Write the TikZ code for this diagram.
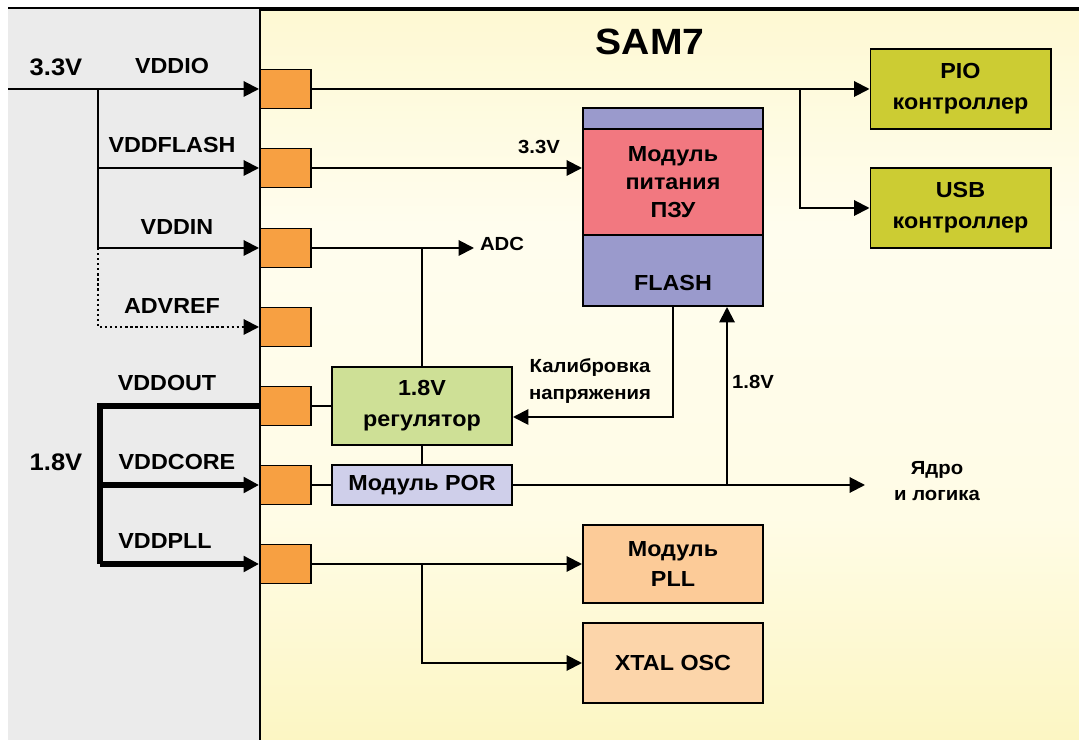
\documentclass[tikz,border=0pt]{standalone}
\usepackage{fontspec}
\setmainfont{Liberation Sans}[FakeStretch=1.07]
\usetikzlibrary{arrows.meta}

\definecolor{pinorange}{HTML}{F7A042}
\definecolor{ctrlolive}{HTML}{CCCC33}
\definecolor{romred}{HTML}{F27880}
\definecolor{flashblue}{HTML}{9A9ACC}
\definecolor{reggreen}{HTML}{CEE096}
\definecolor{porlav}{HTML}{CFCFEA}
\definecolor{pllorange}{HTML}{FCCB98}
\definecolor{xtalorange}{HTML}{FCD5AA}
\definecolor{leftgrey}{HTML}{EBEBEB}

\pgfdeclareverticalshading{chipshade}{100bp}{
  rgb(0bp)=(0.976,0.937,0.596);
  rgb(20bp)=(0.984,0.957,0.720);
  rgb(40bp)=(1,0.988,0.900);
  rgb(60bp)=(1,0.992,0.935);
  rgb(80bp)=(0.992,0.969,0.790);
  rgb(100bp)=(0.980,0.949,0.630)}

\begin{document}
\begin{tikzpicture}
  [x=0.025cm,y=-0.025cm,line width=1.4pt,
   font=\bfseries\fontsize{15.5}{22}\selectfont,
   >={Triangle[length=11pt,width=11pt]},
   pin/.style={draw,fill=pinorange,minimum width=1.275cm,minimum height=0.975cm,inner sep=0pt},
   block/.style={draw,minimum width=4.5cm,minimum height=2cm,align=center,inner sep=0pt},
   lbl/.style={inner sep=0pt,align=center},
   small/.style={font=\bfseries\fontsize{13.5}{19}\selectfont},
   big/.style={font=\bfseries\fontsize{17}{22}\selectfont},
   bus/.style={line width=3.6pt}]
  \useasboundingbox (0,0) rectangle (1079,740);
  \fill[white] (0,0) rectangle (1079,740);
  \fill[leftgrey] (8,8) rectangle (260,740);
  \shade[shading=chipshade] (260,9) rectangle (1079,740);
  \draw[line width=1pt] (8,8) -- (260,8);
  \draw[line width=2.2pt] (260,9) -- (1079,9);
  \draw[line width=1.6pt] (260,8) -- (260,740);

  \node[lbl,font=\bfseries\fontsize{26}{30}\selectfont] (title) at (650,42) {SAM7};

  % pins
  \node[pin] (io)   at (285.5,89)  {};
  \node[pin] (fl)   at (285.5,168) {};
  \node[pin] (in)   at (285.5,248) {};
  \node[pin] (ref)  at (285.5,327) {};
  \node[pin] (out)  at (285.5,406) {};
  \node[pin] (core) at (285.5,485) {};
  \node[pin] (pll)  at (285.5,564) {};

  % left labels
  \node[lbl,big] (v33) at (56,67)  {3.3V};
  \node[lbl,big] (v18) at (56,462) {1.8V};
  \node[lbl] (lio)   at (172,66)  {VDDIO};
  \node[lbl] (lfl)   at (172,145) {VDDFLASH};
  \node[lbl] (lin)   at (177,227) {VDDIN};
  \node[lbl] (lref)  at (172,306) {ADVREF};
  \node[lbl] (lout)  at (167,383) {VDDOUT};
  \node[lbl] (lcore) at (177,462) {VDDCORE};
  \node[lbl] (lpll)  at (165,541) {VDDPLL};

  % blocks
  \node[block,fill=ctrlolive] (pio) at (960.5,89)  {PIO\\контроллер};
  \node[block,fill=ctrlolive] (usb) at (960.5,208) {USB\\контроллер};
  \node[block,fill=flashblue,minimum height=4.95cm] (flash) at (673,207) {};
  \node[block,fill=romred,minimum height=2.65cm,font=\bfseries\fontsize{15.5}{20}\selectfont] (rom) at (673,182) {Модуль\\питания\\ПЗУ};
  \node[lbl] (flashtxt) at (673,283) {FLASH};
  \node[block,fill=reggreen,minimum height=1.95cm] (reg) at (422,406) {1.8V\\регулятор};
  \node[block,fill=porlav,minimum height=1cm] (por) at (422,485) {Модуль POR};
  \node[block,fill=pllorange,minimum height=1.95cm] (pllbox) at (673,564) {Модуль\\PLL};
  \node[block,fill=xtalorange] (xtal) at (673,663) {XTAL OSC};

  % small labels
  \node[lbl,small] (adc) at (502,244) {ADC};
  \node[lbl,small] (v33f) at (539,147) {3.3V};
  \node[lbl,small] (cal) at (590,381) {Калибровка\\напряжения};
  \node[lbl,small] (v18c) at (753,382) {1.8V};
  \node[lbl,small] (logic) at (937,481) {Ядро\\и логика};

  % junctions
  \coordinate (src) at (8,89);
  \coordinate (b1) at (98,89);
  \coordinate (b3) at (98,248);
  \coordinate (b4) at (98,327);
  \coordinate (c1) at (100,406);
  \coordinate (c3) at (100,564);
  \coordinate (j1) at (800,89);
  \coordinate (j2) at (422,248);
  \coordinate (j3) at (727,485);
  \coordinate (j4) at (422,564);
  \coordinate (calp) at (673,417);
  \coordinate (lgin) at (865,485);
  \coordinate (adcin) at (474,248);

  % 3.3V supply
  \draw[->] (src) -- (io);
  \draw (b1) -- (b3);
  \foreach \p in {fl,in}
    \draw[->] (b1 |- \p) -- (\p);
  \draw[->,dash pattern=on 1.6pt off 2pt] (b3) -- (b4) -- (ref);

  % 1.8V supply
  \draw[bus] (out.west) -- (c1) -- (c3);
  \foreach \p in {core,pll}
    \draw[bus,->] (c1 |- \p) -- (\p);

  % inside the chip
  \draw[->] (io) -- (pio);
  \draw[->] (j1) |- (usb);
  \draw[->] (fl) -- (fl -| rom.west);
  \draw[->] (in) -- (adcin);
  \draw (j2) -- (reg);
  \foreach \from/\to in {out/reg,reg/por,core/por}
    \draw (\from) -- (\to);
  \draw[->] (flash.south) -- (calp) -- (calp -| reg.east);
  \draw[->] (por) -- (lgin);
  \draw[->] (j3) -- (j3 |- flash.south);
  \draw[->] (pll) -- (pllbox);
  \draw[->] (j4) |- (xtal);
\end{tikzpicture}
\end{document}
